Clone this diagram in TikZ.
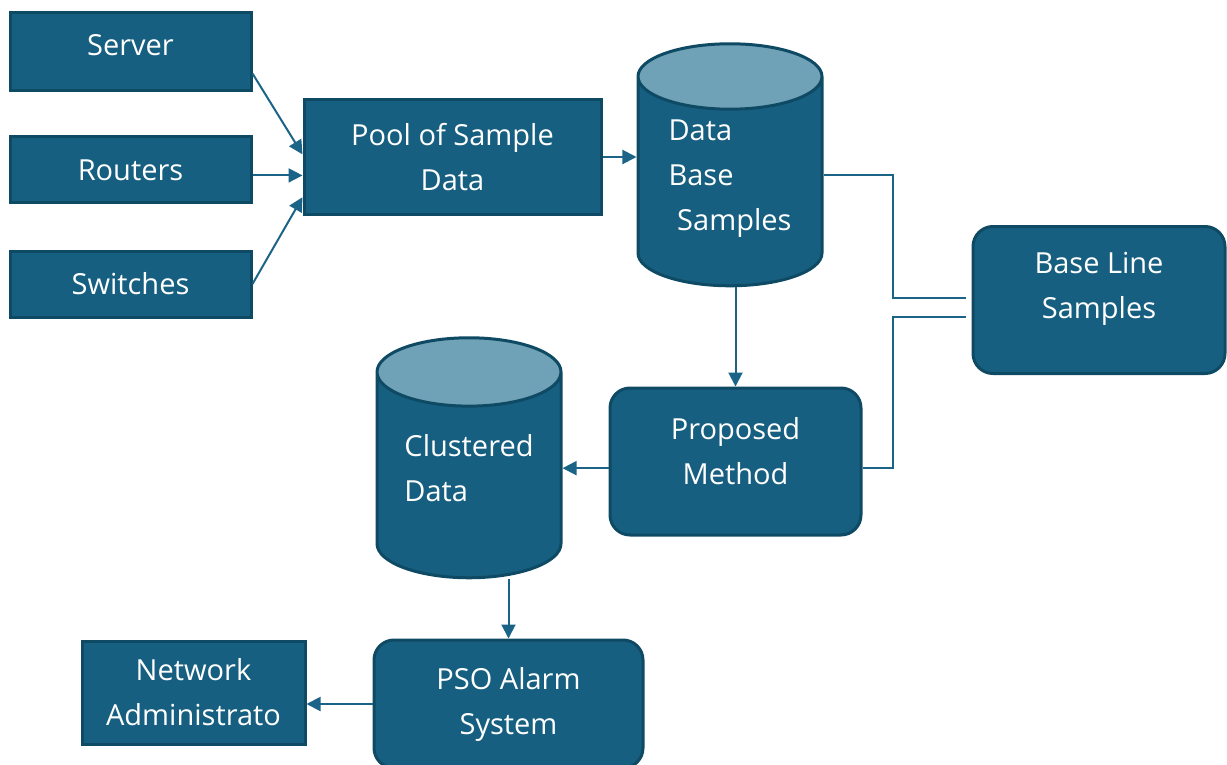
\documentclass[tikz,border=0pt]{standalone}
\usepackage{fontspec}
\setmainfont{Open Sans}
\usetikzlibrary{arrows.meta, positioning, shapes.geometric}

\definecolor{boxfill}{HTML}{175F80}
\definecolor{boxline}{HTML}{0F4A64}
\definecolor{dbtop}{HTML}{6FA1B7}
\definecolor{wire}{HTML}{1C6487}

\tikzset{
  box/.style = {draw = boxline, fill = boxfill, line width = 1.5pt, text = white,
    align = center, font = \fontsize{14.5}{22.5}\selectfont},
  roundbox/.style = {box, rounded corners = 10pt},
  db/.style = {box, fill = none, cylinder, shape border rotate = 90, aspect = 0.48,
    cylinder uses custom fill, cylinder body fill = boxfill,
    cylinder end fill = dbtop, align = left},
  wire/.style = {draw = wire, line width = 1pt},
  flow/.style = {wire, -{Triangle[length = 7pt, width = 7pt]}}
}

\begin{document}
\begin{tikzpicture}[x = 0.5pt, y = -0.5pt]
  \useasboundingbox (0,0) rectangle (1227,765);

  \node[box, minimum width = 120.5pt, minimum height = 39pt, text depth = 7pt] (server) at (130.5,52) {Server};
  \node[box, minimum width = 120.5pt, minimum height = 33pt] (routers) at (130.5,170) {Routers};
  \node[box, minimum width = 120.5pt, minimum height = 33pt] (switches) at (130.5,284) {Switches};
  \node[box, minimum width = 148.5pt, minimum height = 57pt] (pool) at (452.5,157) {Pool of Sample\\Data};
  \node[db, minimum width = 92pt, minimum height = 121pt, text depth = 12.5pt] (dbase) at (730,188) {Data\\Base\\\hspace*{0.3em}Samples};
  \node[roundbox, minimum width = 126pt, minimum height = 73.5pt, text depth = 15pt] (baseline) at (1099,300) {Base Line\\Samples};
  \node[roundbox, minimum width = 125.5pt, minimum height = 73.5pt, text depth = 11pt] (proposed) at (735.5,461.5) {Proposed\\Method};
  \node[db, minimum width = 92pt, minimum height = 120pt, text depth = 14pt] (clustered) at (469,482) {Clustered\\Data};
  \node[roundbox, minimum width = 134.5pt, minimum height = 64pt] (pso) at (508.5,704) {PSO Alarm\\System};
  \node[box, minimum width = 111.5pt, minimum height = 51.5pt] (netadmin) at (193.5,692.5) {Network\\Administrato};

  \coordinate (j0) at (893,175);
  \coordinate (j1) at (893,298);
  \coordinate (j2) at (893,317);

  % sources into the pool
  \draw[flow] (server.-10) -- (pool.179);
  \draw[flow] (pool.187 -| routers.east) -- (pool.187);
  \draw[flow] (switches.east) -- (pool.195);
  \draw[flow] (pool.east) -- (pool.east -| dbase.west);

  % base line links
  \draw[wire, shorten >= 3pt] (j0 -| dbase.east) -- (j0) -- (j1) -- (j1 -| baseline.west);
  \draw[wire, shorten <= 3pt] (j2 -| baseline.west) -- (j2) |- (proposed.-3);

  \draw[flow] (proposed.north |- dbase.south) -- (proposed.north);
  \draw[flow] (proposed.183) -- (proposed.183 -| clustered.east);
  \draw[flow] (pso.north |- clustered.south) -- (pso.north);
  \draw[flow] (pso.west) -- (pso.west -| netadmin.east);
\end{tikzpicture}
\end{document}
